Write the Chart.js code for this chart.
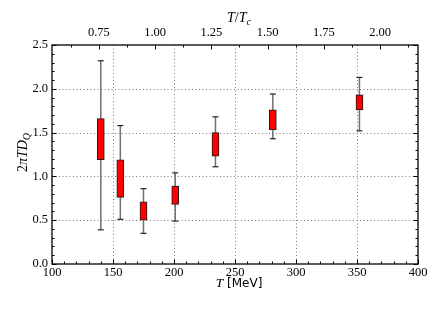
<!DOCTYPE html>
<html>
<head>
<meta charset="utf-8">
<script src="https://cdn.jsdelivr.net/npm/chart.js@4/dist/chart.umd.min.js"></script>
<style>
  html, body { margin: 0; padding: 0; background: #fff; }
  #wrap { width: 441px; height: 311px; }
</style>
</head>
<body>
<div id="wrap"><canvas id="chart" width="441" height="311"></canvas></div>
<script>
// temperatures in MeV
const temps = [140, 156, 175, 201, 234, 281, 352];
// box edges and whisker ends for 2*pi*T*D_Q
const boxLow = [1.19, 0.76, 0.50, 0.68, 1.23, 1.53, 1.76];
const boxHigh = [1.66, 1.19, 0.71, 0.89, 1.50, 1.76, 1.93];
const whiskLow = [0.39, 0.51, 0.35, 0.49, 1.11, 1.43, 1.52];
const whiskHigh = [2.32, 1.58, 0.86, 1.04, 1.68, 1.94, 2.13];
const ratioTicks = [0.75, 1.00, 1.25, 1.50, 1.75, 2.00];
const TC = 184.5;

const serif = '"Liberation Serif", "DejaVu Serif", serif';

function whiskerLine() {
  const pts = [];
  temps.forEach((t, i) => {
    pts.push({ x: t, y: whiskLow[i] });
    pts.push({ x: t, y: whiskHigh[i] });
    pts.push({ x: t, y: null });
  });
  return pts;
}

function capPoints() {
  const pts = [];
  temps.forEach((t, i) => {
    pts.push({ x: t, y: whiskLow[i] });
    pts.push({ x: t, y: whiskHigh[i] });
  });
  return pts;
}

function drawPieces(ctx, pieces, cx, y) {
  let total = 0;
  pieces.forEach(p => { ctx.font = p[1]; total += ctx.measureText(p[0]).width; });
  let x = cx - total / 2;
  pieces.forEach(p => {
    ctx.font = p[1];
    ctx.fillText(p[0], x, y + p[2]);
    x += ctx.measureText(p[0]).width;
  });
}

// dotted grid, frame, inward ticks and axis titles
const framePlugin = {
  id: 'frame',
  beforeDatasetsDraw(chart) {
    const { ctx, chartArea: a, scales } = chart;
    ctx.save();
    ctx.strokeStyle = '#7a7a7a';
    ctx.lineWidth = 1;
    ctx.setLineDash([1, 2.5]);
    for (let v = 150; v < 400; v += 50) {
      const x = Math.round(scales.x.getPixelForValue(v)) + 0.5;
      ctx.beginPath(); ctx.moveTo(x, a.top); ctx.lineTo(x, a.bottom); ctx.stroke();
    }
    for (let v = 0.5; v < 2.5; v += 0.5) {
      const y = Math.round(scales.y.getPixelForValue(v)) + 0.5;
      ctx.beginPath(); ctx.moveTo(a.left, y); ctx.lineTo(a.right, y); ctx.stroke();
    }
    ctx.restore();
  },
  afterDraw(chart) {
    const { ctx, chartArea: a, scales } = chart;
    ctx.save();
    ctx.strokeStyle = '#000';
    ctx.lineWidth = 1;
    ctx.beginPath();
    for (let i = 0; i <= 30; i++) {
      const x = Math.round(scales.x.getPixelForValue(100 + i * 10)) + 0.5;
      const len = i % 5 === 0 ? 4.5 : 2.5;
      ctx.moveTo(x, a.bottom); ctx.lineTo(x, a.bottom - len);
    }
    for (let i = 5; i <= 17; i++) {
      const x = Math.round(scales.x2.getPixelForValue(i * 0.125)) + 0.5;
      const len = i % 2 === 0 ? 4.5 : 2.5;
      ctx.moveTo(x, a.top); ctx.lineTo(x, a.top + len);
    }
    for (let i = 0; i <= 25; i++) {
      const y = Math.round(scales.y.getPixelForValue(i * 0.1)) + 0.5;
      const len = i % 5 === 0 ? 4.5 : 2.5;
      ctx.moveTo(a.left, y); ctx.lineTo(a.left + len, y);
      ctx.moveTo(a.right, y); ctx.lineTo(a.right - len, y);
    }
    ctx.stroke();
    ctx.lineWidth = 1.3;
    ctx.strokeRect(a.left, a.top, a.right - a.left, a.bottom - a.top);

    ctx.fillStyle = '#000';
    ctx.textBaseline = 'alphabetic';
    const cx = (a.left + a.right) / 2 + 4;

    // bottom title: T [MeV]
    drawPieces(ctx, [
      ['T', 'italic 13.5px ' + serif, 0],
      [' [MeV]', '12px "DejaVu Sans", sans-serif', 0]
    ], cx, 287);

    // top title: T/T_c
    drawPieces(ctx, [
      ['T', 'italic 14px ' + serif, 0],
      ['/', '14px ' + serif, 0],
      ['T', 'italic 14px ' + serif, 0],
      ['c', 'italic 10px ' + serif, 3]
    ], cx, 22);

    // left title: 2 pi T D_Q
    ctx.save();
    ctx.translate(27, (a.top + a.bottom) / 2 - 2);
    ctx.rotate(-Math.PI / 2);
    drawPieces(ctx, [
      ['2', '14px ' + serif, 0],
      ['\u03c0', 'italic 14px ' + serif, 0],
      ['T', 'italic 14px ' + serif, 0],
      ['D', 'italic 14px ' + serif, 0],
      ['Q', 'italic 10px ' + serif, 3]
    ], 0, 0);
    ctx.restore();
    ctx.restore();
  }
};

function createChart() {
  const ctx = document.getElementById('chart').getContext('2d');
  return new Chart(ctx, {
    type: 'bar',
    data: {
      datasets: [{
        type: 'bar',
        data: temps.map((t, i) => ({ x: t, y: [boxLow[i], boxHigh[i]] })),
        backgroundColor: '#ff0000',
        borderColor: '#1a1a1a',
        borderWidth: 1,
        borderSkipped: false,
        barThickness: 7,
        order: 1,
      }, {
        type: 'line',
        data: whiskerLine(),
        borderColor: '#707070',
        borderWidth: 1.5,
        pointRadius: 0,
        spanGaps: false,
        order: 3,
      }, {
        type: 'scatter',
        data: capPoints(),
        pointStyle: 'line',
        pointRadius: 3,
        borderColor: '#222',
        borderWidth: 1.2,
        order: 2,
      }],
    },
    options: {
      responsive: false,
      animation: false,
      layout: { padding: { left: 0, right: 23, top: 0, bottom: 0 } },
      plugins: { legend: { display: false }, tooltip: { enabled: false } },
      scales: {
        x: {
          type: 'linear',
          position: 'bottom',
          min: 100,
          max: 400,
          offset: false,
          grid: { display: false, drawTicks: false },
          border: { display: false },
          ticks: { stepSize: 50, padding: 1, color: '#000', font: { family: serif, size: 12.5 } },
          afterFit(scale) { scale.height = 47; },
        },
        x2: {
          type: 'linear',
          position: 'top',
          min: 100 / TC,
          max: 400 / TC,
          offset: false,
          grid: { display: false, drawTicks: false },
          border: { display: false },
          afterBuildTicks(scale) { scale.ticks = ratioTicks.map(v => ({ value: v })); },
          ticks: {
            padding: 5, color: '#000', font: { family: serif, size: 12.5 },
            callback: v => v.toFixed(2),
          },
          afterFit(scale) { scale.height = 45; },
        },
        y: {
          min: 0,
          max: 2.5,
          grid: { display: false, drawTicks: false },
          border: { display: false },
          ticks: {
            stepSize: 0.5, padding: 4, color: '#000', font: { family: serif, size: 12.5 },
            callback: v => v.toFixed(1),
          },
          afterFit(scale) { scale.width = 52; },
        },
      },
    },
    plugins: [framePlugin],
  });
}

createChart();
</script>
</body>
</html>
